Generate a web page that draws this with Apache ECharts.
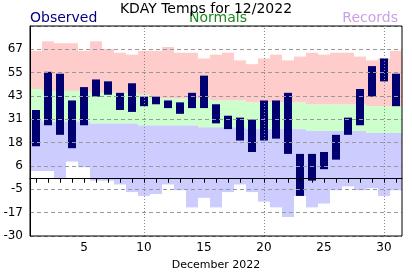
<!DOCTYPE html>
<html>
<head>
<meta charset="utf-8">
<script src="https://cdn.jsdelivr.net/npm/echarts@6/dist/echarts.min.js"></script>
<style>html,body{margin:0;padding:0;background:#fff;}#chart{width:412px;height:276px;}</style>
</head>
<body>
<div id="chart"></div>
<script>
const days = ['1','2','3','4','5','6','7','8','9','10','11','12','13','14','15','16','17','18','19','20','21','22','23','24','25','26','27','28','29','30','31'];
const obsHigh = [36,56,55,41,48,52,51,45,50,43,43,41,40,45,54,39,33,32,31,41,41,45,13,13,14,23,32,47,59,63,55];
const obsLow  = [17,28,23,16,28,43,44,36,35,38,39,37,34,37,37,29,26,20,14,20,21,13,-9,-1,5,10,23,28,43,51,38];
const recHigh = [67,72,71,71,67,72,68,66,65,67,67,69,66,66,63,65,66,62,60,63,65,62,64,66,65,66,66,64,62,63,67];
const recLow  = [4,4,0,9,6,-1,-1,-3,-7,-9,-8,-3,-6,-15,-10,-15,-7,-3,-7,-12,-15,-20,-9,-15,-13,-6,-4,-6,-5,-9,-6];
const normHigh = [47,46,46,46,46,45,45,45,45,44,42,42,42,42,42,41,41,41,40,40,40,40,40,39,39,39,39,39,38,38,38];
const normLow  = [31,30,30,30,30,29,29,29,29,28,28,28,28,28,27,27,27,27,26,26,26,26,26,25,25,25,25,25,24,24,24];
const yMin = -30, yMax = 80, ySteps = 9;
const gridDays = ['10','20','30'];

const chart = echarts.init(document.getElementById('chart'), null, {renderer:'canvas'});
const FONT = 'DejaVu Sans';

function pairs(lo, hi){ return days.map((d,i)=>[i, lo[i], hi[i]]); }
function rectRender(color, frac){
  return function(params, api){
    const x = api.value(0);
    const a = api.coord([x, api.value(1)]);
    const b = api.coord([x, api.value(2)]);
    const w = api.size([1,0])[0]*frac;
    return {type:'rect', shape:{x:a[0]-w/2, y:b[1], width:w, height:a[1]-b[1]}, style:{fill:color}};
  };
}
function bandSeries(name, lo, hi, color, frac, z){
  return {type:'custom', name:name, data:pairs(lo,hi), renderItem:rectRender(color, frac),
    encode:{x:0, y:[1,2]}, z:z, silent:true, animation:false};
}
function truncLabel(v){
  if (v > yMax - 1) return '';
  const t = v < 0 ? Math.ceil(v - 1e-6) : Math.floor(v + 1e-6);
  return String(t);
}

const option = {
  animation:false,
  title:{text:'KDAY Temps for 12/2022', left:'center', top:-3,
    textStyle:{fontFamily:FONT, fontSize:14, fontWeight:'normal', color:'#000'}},
  graphic:[
    {type:'text', left:30, top:11, style:{text:'Observed', font:'14px "DejaVu Sans"', fill:'#000080'}},
    {type:'text', left:189, top:11, style:{text:'Normals', font:'14px "DejaVu Sans"', fill:'#1a8a1a'}},
    {type:'text', right:14, top:11, style:{text:'Records', font:'14px "DejaVu Sans"', fill:'#c9a2e8'}}
  ],
  grid:{left:30, right:10, top:26, bottom:29, show:true, borderColor:'#000', borderWidth:1, backgroundColor:'transparent', z:12},
  xAxis:{type:'category', data:days, boundaryGap:true, z:12,
    name:'December 2022', nameLocation:'middle', nameGap:24,
    nameTextStyle:{fontFamily:FONT, fontSize:11, color:'#000'},
    axisLine:{lineStyle:{color:'#000'}},
    axisTick:{show:true, alignWithLabel:true, interval:0, length:4, lineStyle:{color:'#000'}},
    axisLabel:{interval:(i,v)=>((i+1)%5===0), fontFamily:FONT, fontSize:12, color:'#000', margin:6},
    splitLine:{show:false}},
  yAxis:{type:'value', min:yMin, max:yMax, interval:(yMax-yMin)/ySteps, z:10,
    axisLine:{show:true, lineStyle:{color:'#000'}},
    axisTick:{show:false},
    axisLabel:{fontFamily:FONT, fontSize:12, color:'#000', margin:7, formatter:truncLabel},
    splitLine:{show:true, lineStyle:{color:'#999', type:[4,3], width:1}}},
  series:[
    bandSeries('recLow', recLow, normLow, '#ccccff', 1, 1),
    bandSeries('normals', normLow, normHigh, '#ccffcc', 1, 1),
    bandSeries('recHigh', normHigh, recHigh, '#ffcccc', 1, 1),
    bandSeries('observed', obsLow, obsHigh, '#000070', 8/12, 4),
    {type:'line', data:[], z:11, silent:true,
      markLine:{symbol:'none', silent:true, label:{show:false}, z:11,
        lineStyle:{color:'#888', type:[1,2], width:1},
        data:gridDays.map(d=>({xAxis:d}))}}
  ]
};
chart.setOption(option);
</script>
</body>
</html>
